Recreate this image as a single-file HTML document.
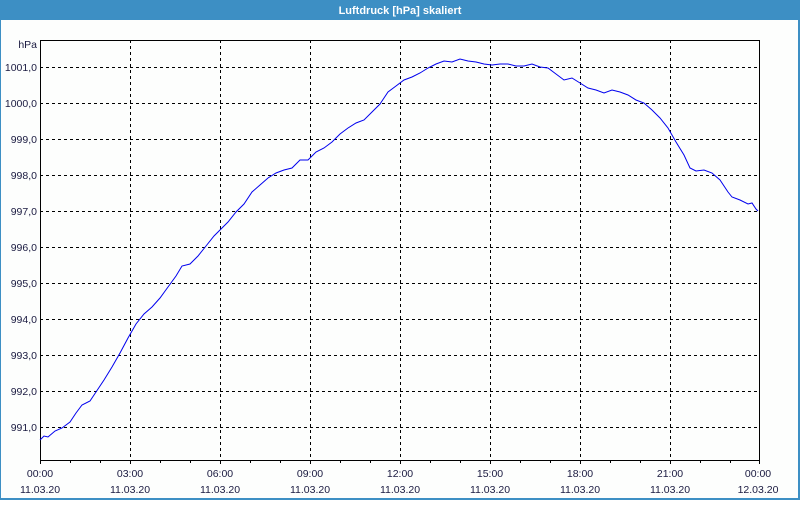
<!DOCTYPE html>
<html><head><meta charset="utf-8"><style>
html,body{margin:0;padding:0;background:#fff;}
body{width:800px;height:500px;overflow:hidden;}
</style></head><body>
<svg width="800" height="500" xmlns="http://www.w3.org/2000/svg" font-family="Liberation Sans, sans-serif" font-size="10.5">
<rect x="0" y="0" width="800" height="500" fill="#3d8fc4"/>
<rect x="1" y="20" width="797" height="478" fill="#fdfefd"/>
<text x="400" y="14" fill="#fff" font-weight="bold" font-size="11" text-anchor="middle">Luftdruck [hPa] skaliert</text>
<g stroke="#000" stroke-width="1" stroke-dasharray="3,3" shape-rendering="crispEdges">
<line x1="40" x2="760" y1="67.5" y2="67.5"/><line x1="40" x2="760" y1="103.5" y2="103.5"/>
<line x1="40" x2="760" y1="139.5" y2="139.5"/><line x1="40" x2="760" y1="175.5" y2="175.5"/>
<line x1="40" x2="760" y1="211.5" y2="211.5"/><line x1="40" x2="760" y1="247.5" y2="247.5"/>
<line x1="40" x2="760" y1="283.5" y2="283.5"/><line x1="40" x2="760" y1="319.5" y2="319.5"/>
<line x1="40" x2="760" y1="355.5" y2="355.5"/><line x1="40" x2="760" y1="391.5" y2="391.5"/>
<line x1="40" x2="760" y1="427.5" y2="427.5"/>
<line x1="130.5" x2="130.5" y1="40" y2="460"/><line x1="220.5" x2="220.5" y1="40" y2="460"/>
<line x1="310.5" x2="310.5" y1="40" y2="460"/><line x1="400.5" x2="400.5" y1="40" y2="460"/>
<line x1="490.5" x2="490.5" y1="40" y2="460"/><line x1="580.5" x2="580.5" y1="40" y2="460"/>
<line x1="670.5" x2="670.5" y1="40" y2="460"/>
</g>
<rect x="40.5" y="40.5" width="719" height="420" fill="none" stroke="#000" shape-rendering="crispEdges"/>
<g stroke="#000" shape-rendering="crispEdges">
<line x1="40.5" x2="40.5" y1="460" y2="464"/><line x1="70.5" x2="70.5" y1="460" y2="463"/><line x1="100.5" x2="100.5" y1="460" y2="463"/><line x1="130.5" x2="130.5" y1="460" y2="464"/>
<line x1="160.5" x2="160.5" y1="460" y2="463"/><line x1="190.5" x2="190.5" y1="460" y2="463"/><line x1="220.5" x2="220.5" y1="460" y2="464"/>
<line x1="250.5" x2="250.5" y1="460" y2="463"/><line x1="280.5" x2="280.5" y1="460" y2="463"/><line x1="310.5" x2="310.5" y1="460" y2="464"/>
<line x1="340.5" x2="340.5" y1="460" y2="463"/><line x1="370.5" x2="370.5" y1="460" y2="463"/><line x1="400.5" x2="400.5" y1="460" y2="464"/>
<line x1="430.5" x2="430.5" y1="460" y2="463"/><line x1="460.5" x2="460.5" y1="460" y2="463"/><line x1="490.5" x2="490.5" y1="460" y2="464"/>
<line x1="520.5" x2="520.5" y1="460" y2="463"/><line x1="550.5" x2="550.5" y1="460" y2="463"/><line x1="580.5" x2="580.5" y1="460" y2="464"/>
<line x1="610.5" x2="610.5" y1="460" y2="463"/><line x1="640.5" x2="640.5" y1="460" y2="463"/><line x1="670.5" x2="670.5" y1="460" y2="464"/>
<line x1="700.5" x2="700.5" y1="460" y2="463"/><line x1="730.5" x2="730.5" y1="460" y2="463"/><line x1="759.5" x2="759.5" y1="460" y2="464"/>
</g>
<g fill="#1a1a40" text-anchor="end">
<text x="37" y="48">hPa</text>
<text x="37" y="71">1001,0</text><text x="37" y="107">1000,0</text><text x="37" y="143">999,0</text>
<text x="37" y="179">998,0</text><text x="37" y="215">997,0</text><text x="37" y="251">996,0</text>
<text x="37" y="287">995,0</text><text x="37" y="323">994,0</text><text x="37" y="359">993,0</text>
<text x="37" y="395">992,0</text><text x="37" y="431">991,0</text>
</g>
<g fill="#1a1a40" text-anchor="middle">
<text x="40" y="477">00:00</text><text x="40" y="493">11.03.20</text>
<text x="130" y="477">03:00</text><text x="130" y="493">11.03.20</text>
<text x="220" y="477">06:00</text><text x="220" y="493">11.03.20</text>
<text x="310" y="477">09:00</text><text x="310" y="493">11.03.20</text>
<text x="400" y="477">12:00</text><text x="400" y="493">11.03.20</text>
<text x="490" y="477">15:00</text><text x="490" y="493">11.03.20</text>
<text x="580" y="477">18:00</text><text x="580" y="493">11.03.20</text>
<text x="670" y="477">21:00</text><text x="670" y="493">11.03.20</text>
<text x="758" y="477">00:00</text><text x="758" y="493">12.03.20</text>
</g>
<polyline fill="none" stroke="#0000ee" stroke-width="1" points="40,440 44,436 48,437 55,431 62,428 70,422 76,413 82,405 90,401 96,392 104,380 112,367 120,353 128,338 136,324 144,314 152,307 160,298 168,287 176,276 182,266 190,264 198,256 206,246 214,236 222,228 228,222 236,212 244,204 252,192 260,185 268,178 276,173 284,170 292,168 300,160 308,160 316,152 324,148 332,142 340,134 348,128 356,123 364,120 372,112 380,104 388,92 396,86 404,80 412,77 420,73 428,68 436,64 444,61 452,62 460,59 468,61 476,62 484,64 492,65 500,64 508,64 516,66 524,66 532,64 540,67 548,68 556,74 564,80 572,78 580,83 588,88 596,90 604,93 612,90 620,92 628,95 636,100 644,103 652,110 660,118 668,128 676,142 684,155 690,168 696,171 704,170 712,173 720,180 728,192 732,197 740,200 748,204 752,203 756,209 758,211"/>
</svg>
</body></html>
